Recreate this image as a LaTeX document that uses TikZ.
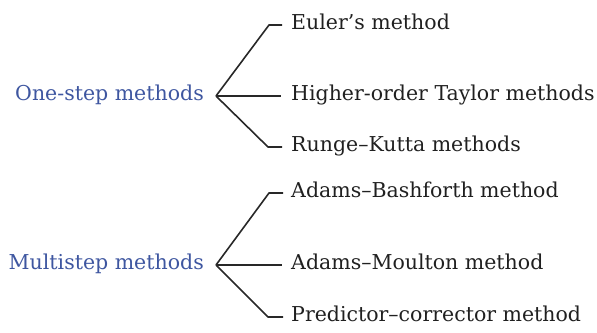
\documentclass[tikz,border=0pt]{standalone}
\usepackage{fontspec}
\setmainfont{DejaVu Serif}
\usepackage{xcolor}
\definecolor{headblue}{RGB}{62,86,160}
\definecolor{inkgray}{RGB}{32,32,32}
\definecolor{linegray}{RGB}{40,40,40}
\begin{document}
\begin{tikzpicture}[x=1pt,y=-1pt,
  every node/.style={inner sep=0pt,font=\fontsize{20.5}{24}\selectfont},
  head/.style={anchor=base east,text=headblue},
  leaf/.style={anchor=base west,text=inkgray},
  branch/.style={draw=linegray,line width=1.6pt,line join=round}]
\useasboundingbox (0,0) rectangle (597,332);

% one-step methods
\coordinate (A1) at (216,96);
\node[head] (h1) at (204,100.5) {One-step methods};
\coordinate (a1t) at (282,25);
\coordinate (a1m) at (281,96);
\coordinate (a1b) at (282,147);
\node[leaf] (e) at (291,29.5) {Euler's method};
\node[leaf] (t) at (291,100.5) {Higher-order Taylor methods};
\node[leaf] (r) at (291,151.5) {Runge--Kutta methods};
\draw[branch] (A1) -- (269,25) -- (a1t);
\draw[branch] (A1) -- (a1m);
\draw[branch] (A1) -- (268,147) -- (a1b);

% multistep methods
\coordinate (A2) at (216,265);
\node[head] (h2) at (204,269.5) {Multistep methods};
\coordinate (a2t) at (283,193);
\coordinate (a2m) at (282,265);
\coordinate (a2b) at (283,317);
\node[leaf] (ab) at (291,197.5) {Adams--Bashforth method};
\node[leaf] (am) at (291,269.5) {Adams--Moulton method};
\node[leaf] (pc) at (291,321.5) {Predictor--corrector method};
\draw[branch] (A2) -- (269,193) -- (a2t);
\draw[branch] (A2) -- (a2m);
\draw[branch] (A2) -- (268,317) -- (a2b);
\end{tikzpicture}
\end{document}
